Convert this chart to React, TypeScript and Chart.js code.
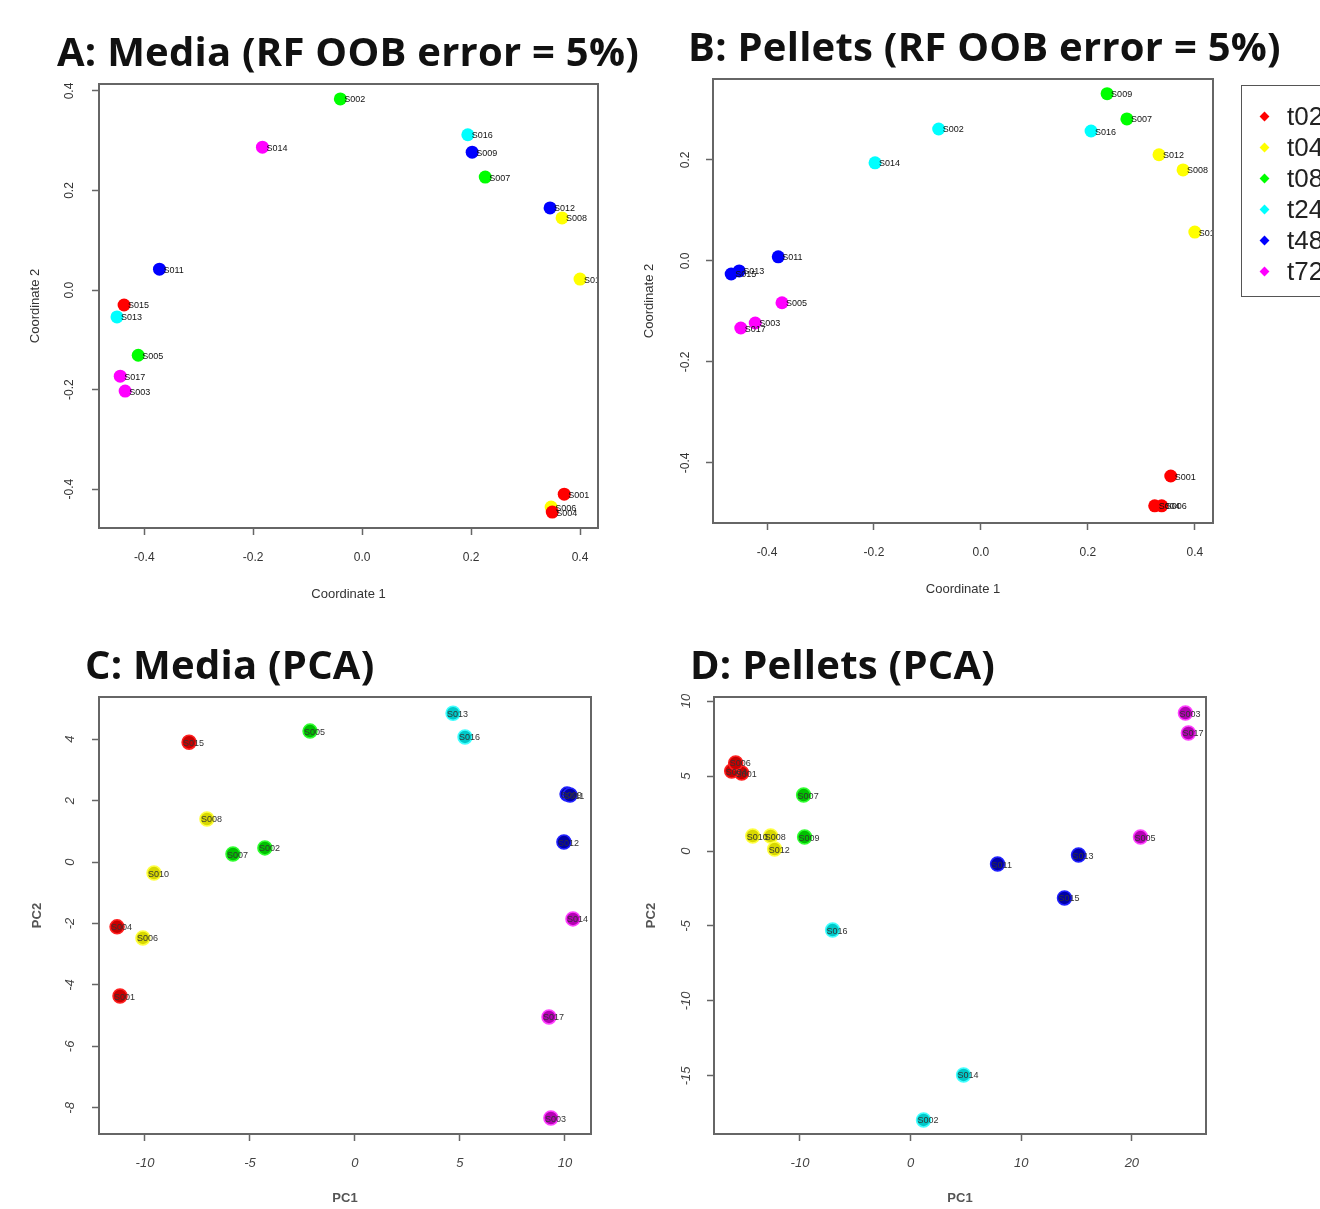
import React, { useEffect, useRef } from 'react';
import { Chart, registerables } from 'chart.js';
Chart.register(...registerables);

// ---------- shared ----------
const groups = ['t02', 't04', 't08', 't24', 't48', 't72'];
const rfColors = ['#ff0000', '#ffff00', '#00ff00', '#00ffff', '#0000ff', '#ff00ff'];
const pcaFill = ['#c80000', '#d8d800', '#00c000', '#00c8c8', '#0000a8', '#b400b4'];
const pcaBorder = ['#ff2020', '#ffff40', '#30ff30', '#40ffff', '#2020ff', '#ff40ff'];

// ---------- Panel A: Media (RF) ----------
const aNames = ['S001', 'S004', 'S015', 'S006', 'S008', 'S010', 'S002', 'S005', 'S007', 'S013', 'S016', 'S009', 'S011', 'S012', 'S003', 'S014', 'S017'];
const aGroup = [0, 0, 0, 1, 1, 1, 2, 2, 2, 3, 3, 4, 4, 4, 5, 5, 5];
const aX = [0.371, 0.349, -0.437, 0.347, 0.367, 0.400, -0.040, -0.411, 0.226, -0.450, 0.194, 0.202, -0.372, 0.345, -0.435, -0.183, -0.444];
const aY = [-0.410, -0.446, -0.030, -0.436, 0.145, 0.022, 0.384, -0.131, 0.227, -0.054, 0.312, 0.277, 0.042, 0.165, -0.203, 0.287, -0.173];
const aXTicks = [-0.4, -0.2, 0, 0.2, 0.4];
const aYTicks = [-0.4, -0.2, 0, 0.2, 0.4];

// ---------- Panel B: Pellets (RF) ----------
const bNames = ['S001', 'S004', 'S006', 'S008', 'S010', 'S012', 'S007', 'S009', 'S002', 'S014', 'S016', 'S011', 'S013', 'S015', 'S003', 'S005', 'S017'];
const bGroup = [0, 0, 0, 1, 1, 1, 2, 2, 3, 3, 3, 4, 4, 4, 5, 5, 5];
const bX = [0.355, 0.325, 0.338, 0.378, 0.400, 0.333, 0.273, 0.236, -0.079, -0.198, 0.206, -0.379, -0.452, -0.467, -0.422, -0.372, -0.449];
const bY = [-0.426, -0.485, -0.485, 0.180, 0.057, 0.210, 0.281, 0.331, 0.261, 0.194, 0.257, 0.008, -0.020, -0.026, -0.123, -0.083, -0.133];
const bXTicks = [-0.4, -0.2, 0, 0.2, 0.4];
const bYTicks = [-0.4, -0.2, 0, 0.2];

// ---------- Panel C: Media (PCA) ----------
const cNames = ['S001', 'S004', 'S015', 'S006', 'S008', 'S010', 'S002', 'S005', 'S007', 'S013', 'S016', 'S009', 'S011', 'S012', 'S003', 'S014', 'S017'];
const cGroup = [0, 0, 0, 1, 1, 1, 2, 2, 2, 3, 3, 4, 4, 4, 5, 5, 5];
const cX = [-11.19, -11.33, -7.90, -10.10, -7.05, -9.57, -4.29, -2.14, -5.81, 4.67, 5.24, 10.10, 10.24, 9.95, 9.33, 10.38, 9.24];
const cY = [-4.36, -2.11, 3.90, -2.47, 1.40, -0.36, 0.46, 4.26, 0.26, 4.84, 4.07, 2.21, 2.18, 0.65, -8.33, -1.85, -5.04];
const cXTicks = [-10, -5, 0, 5, 10];
const cYTicks = [-8, -6, -4, -2, 0, 2, 4];

// ---------- Panel D: Pellets (PCA) ----------
const dNames = ['S001', 'S004', 'S006', 'S008', 'S010', 'S012', 'S007', 'S009', 'S002', 'S014', 'S016', 'S011', 'S013', 'S015', 'S003', 'S005', 'S017'];
const dGroup = [0, 0, 0, 1, 1, 1, 2, 2, 3, 3, 3, 4, 4, 4, 5, 5, 5];
const dX = [-15.27, -16.17, -15.81, -12.65, -14.27, -12.29, -9.67, -9.58, 1.17, 4.79, -7.05, 7.86, 15.18, 13.91, 24.84, 20.78, 25.11];
const dY = [5.20, 5.33, 5.87, 1.0, 1.0, 0.13, 3.73, 0.93, -17.93, -14.93, -5.27, -0.87, -0.27, -3.13, 9.2, 0.93, 7.87];
const dXTicks = [-10, 0, 10, 20];
const dYTicks = [-15, -10, -5, 0, 5, 10];

type Panel = {
  names: string[]; group: number[]; xs: number[]; ys: number[];
  xTicks: number[]; yTicks: number[]; fmt: (v: number) => string;
  xMin: number; xMax: number; yMin: number; yMax: number;
  area: { l: number; t: number; r: number; b: number };
  xTitle: string; yTitle: string; xTitleY: number; yTitleX: number;
  yLabelCx: number; xLabelCy: number;
  pca: boolean;
};

const fmt1 = (v: number) => v.toFixed(1);
const fmt0 = (v: number) => String(v);

const panels: Panel[] = [
  { names: aNames, group: aGroup, xs: aX, ys: aY, xTicks: aXTicks, yTicks: aYTicks, fmt: fmt1,
    xMin: -0.483, xMax: 0.433, yMin: -0.478, yMax: 0.414,
    area: { l: 99, t: 84, r: 598, b: 528 }, xTitle: 'Coordinate 1', yTitle: 'Coordinate 2',
    xTitleY: 594, yTitleX: 35, yLabelCx: 70, xLabelCy: 558, pca: false },
  { names: bNames, group: bGroup, xs: bX, ys: bY, xTicks: bXTicks, yTicks: bYTicks, fmt: fmt1,
    xMin: -0.501, xMax: 0.434, yMin: -0.519, yMax: 0.360,
    area: { l: 713, t: 79, r: 1213, b: 523 }, xTitle: 'Coordinate 1', yTitle: 'Coordinate 2',
    xTitleY: 589, yTitleX: 649, yLabelCx: 686, xLabelCy: 553, pca: false },
  { names: cNames, group: cGroup, xs: cX, ys: cY, xTicks: cXTicks, yTicks: cYTicks, fmt: fmt0,
    xMin: -12.19, xMax: 11.24, yMin: -8.85, yMax: 5.37,
    area: { l: 99, t: 697, r: 591, b: 1134 }, xTitle: 'PC1', yTitle: 'PC2',
    xTitleY: 1198, yTitleX: 37, yLabelCx: 70, xLabelCy: 1163, pca: true },
  { names: dNames, group: dGroup, xs: dX, ys: dY, xTicks: dXTicks, yTicks: dYTicks, fmt: fmt0,
    xMin: -17.77, xMax: 26.7, yMin: -18.87, yMax: 10.27,
    area: { l: 714, t: 697, r: 1206, b: 1134 }, xTitle: 'PC1', yTitle: 'PC2',
    xTitleY: 1198, yTitleX: 651, yLabelCx: 686, xLabelCy: 1163, pca: true },
];

const FAMILY = "'Liberation Sans', Arial, sans-serif";
const TL = 7; // tick length
const YW = 80; // y-axis box width
const LPAD = 19;

function geom(p: Panel) {
  const cl = p.area.l - YW - LPAD;
  const ct = p.area.t - 40;
  const cw = p.area.r - cl + 60;
  const ch = p.xTitleY + 20 - ct;
  return { cl, ct, cw, ch };
}

function measure(font: string, labels: string[]) {
  const c = document.createElement('canvas');
  const ctx = c.getContext('2d')!;
  ctx.font = font;
  return Math.max(...labels.map((l) => ctx.measureText(l).width));
}

const boxPlugin = {
  id: 'rbox',
  afterDraw(chart: any) {
    const { ctx, chartArea: a } = chart;
    ctx.save();
    ctx.strokeStyle = '#666';
    ctx.lineWidth = 2;
    ctx.strokeRect(a.left, a.top, a.right - a.left, a.bottom - a.top);
    ctx.restore();
  },
};

const labelPlugin = {
  id: 'ptlabels',
  afterDatasetsDraw(chart: any, _args: any, opts: any) {
    const { ctx, chartArea: a } = chart;
    ctx.save();
    ctx.beginPath();
    ctx.rect(a.left, a.top, a.right - a.left, a.bottom - a.top);
    ctx.clip();
    ctx.font = opts.font;
    ctx.fillStyle = opts.color;
    ctx.textBaseline = 'middle';
    ctx.textAlign = 'left';
    chart.data.datasets.forEach((ds: any, di: number) => {
      const meta = chart.getDatasetMeta(di);
      meta.data.forEach((el: any, i: number) => {
        ctx.fillText(ds.data[i].name, el.x + opts.dx, el.y + opts.dy);
      });
    });
    ctx.restore();
  },
};

function buildChart(canvas: HTMLCanvasElement, p: Panel) {
  const g = geom(p);
  const tickSize = p.pca ? 13 : 12;
  const tickStyle = p.pca ? 'italic' : 'normal';
  const tickColor = p.pca ? '#444' : '#333';
  const tickFontStr = `${tickStyle === 'italic' ? 'italic ' : ''}${tickSize}px ${FAMILY}`;
  const tickLH = tickSize * 1.2;
  const titleSize = 13;
  const titleLH = titleSize * 1.2;
  const widest = measure(tickFontStr, p.yTicks.map(p.fmt));
  const yPad = p.area.l - p.yLabelCx - TL - widest / 2;
  const xPad = p.xLabelCy - p.area.b - TL - tickLH / 2;
  const xH = p.xTitleY - p.area.b + titleLH / 2;
  const yTitlePadTop = p.yTitleX - g.cl - LPAD - titleLH / 2;
  const bottomPad = g.ct + g.ch - p.area.b - xH;

  const datasets = groups.map((name, gi) => {
    const idx = p.group.map((v, i) => (v === gi ? i : -1)).filter((i) => i >= 0);
    return {
      label: name,
      data: idx.map((i) => ({ x: p.xs[i], y: p.ys[i], name: p.names[i] })),
      backgroundColor: p.pca ? pcaFill[gi] : rfColors[gi],
      borderColor: p.pca ? pcaBorder[gi] : rfColors[gi],
      borderWidth: p.pca ? 1.5 : 0,
      pointRadius: p.pca ? 7 : 6.5,
      pointHoverRadius: p.pca ? 7 : 6.5,
    };
  });

  const tickFont = { family: FAMILY, size: tickSize, style: tickStyle as any };
  const titleFont = { family: FAMILY, size: titleSize, weight: (p.pca ? 'bold' : 'normal') as any };
  const titleColor = p.pca ? '#555' : '#333';

  return new Chart(canvas, {
    type: 'scatter',
    data: { datasets } as any,
    plugins: [boxPlugin, labelPlugin],
    options: {
      responsive: false,
      animation: false,
      events: [],
      layout: { padding: { left: LPAD, right: 60, top: 40, bottom: bottomPad } },
      plugins: {
        legend: { display: false },
        tooltip: { enabled: false },
        ptlabels: { font: `9px ${FAMILY}`, color: p.pca ? '#333' : '#111', dx: p.pca ? -6 : 4, dy: 1 },
      } as any,
      scales: {
        x: {
          type: 'linear',
          min: p.xMin,
          max: p.xMax,
          afterBuildTicks: (s: any) => { s.ticks = p.xTicks.map((v) => ({ value: v })); },
          afterFit: (s: any) => { s.height = xH; },
          ticks: { font: tickFont, color: tickColor, padding: xPad, maxRotation: 0, minRotation: 0, autoSkip: false, callback: (v: any) => p.fmt(Number(v)) },
          grid: { drawOnChartArea: false, drawTicks: true, tickLength: TL, tickColor: '#666', tickWidth: 1.5 },
          border: { display: false },
          title: { display: true, text: p.xTitle, font: titleFont, color: titleColor, padding: { top: 0, bottom: 0 } },
        },
        y: {
          type: 'linear',
          min: p.yMin,
          max: p.yMax,
          afterBuildTicks: (s: any) => { s.ticks = p.yTicks.map((v) => ({ value: v })); },
          afterFit: (s: any) => { s.width = YW; },
          ticks: { font: tickFont, color: tickColor, padding: yPad, minRotation: 90, maxRotation: 90, crossAlign: 'center', autoSkip: false, callback: (v: any) => p.fmt(Number(v)) },
          grid: { drawOnChartArea: false, drawTicks: true, tickLength: TL, tickColor: '#666', tickWidth: 1.5 },
          border: { display: false },
          title: { display: true, text: p.yTitle, font: titleFont, color: titleColor, padding: { top: yTitlePadTop, bottom: 0 } },
        },
      } as any,
    },
  });
}

const titles = [
  { text: 'A: Media (RF OOB error = 5%)', left: 57, top: 31 },
  { text: 'B: Pellets (RF OOB error = 5%)', left: 688, top: 26 },
  { text: 'C: Media (PCA)', left: 85, top: 644 },
  { text: 'D: Pellets (PCA)', left: 690, top: 644 },
];

export default function App() {
  const refs = useRef<(HTMLCanvasElement | null)[]>([]);
  useEffect(() => {
    const charts = panels.map((p, i) => buildChart(refs.current[i]!, p));
    return () => charts.forEach((c) => c.destroy());
  }, []);

  return (
    <div style={{ position: 'absolute', left: 0, top: 0, width: 1320, height: 1209, overflow: 'hidden', background: '#fff' }}>
      {panels.map((p, i) => {
        const g = geom(p);
        return (
          <canvas
            key={i}
            ref={(el) => { refs.current[i] = el; }}
            width={g.cw}
            height={g.ch}
            style={{ position: 'absolute', left: g.cl, top: g.ct, width: g.cw, height: g.ch }}
          />
        );
      })}
      {titles.map((t, i) => (
        <div
          key={i}
          style={{ position: 'absolute', left: t.left, top: t.top, fontFamily: "'Open Sans', sans-serif", fontWeight: 700, fontSize: 40, letterSpacing: 0.25, lineHeight: 1, whiteSpace: 'nowrap', color: '#111' }}
        >
          {t.text}
        </div>
      ))}
      <div style={{ position: 'absolute', left: 1241, top: 85, width: 110, height: 212, border: '1.5px solid #555', boxSizing: 'border-box' }}>
        {groups.map((gname, i) => (
          <div key={gname} style={{ position: 'absolute', left: 0, top: 30 + 31 * i, height: 0 }}>
            <div style={{ position: 'absolute', left: 19, top: -3.5, width: 7, height: 7, background: rfColors[i], transform: 'rotate(45deg)' }} />
            <div style={{ position: 'absolute', left: 45, top: -15, fontFamily: FAMILY, fontSize: 26, lineHeight: '30px', color: '#222' }}>{gname}</div>
          </div>
        ))}
      </div>
    </div>
  );
}
